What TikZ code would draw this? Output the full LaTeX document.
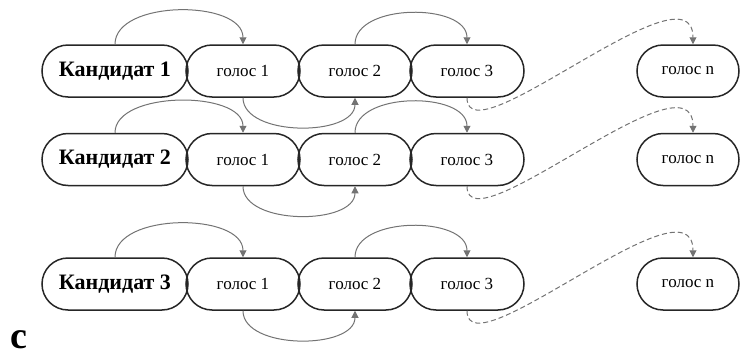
\documentclass[tikz,border=0pt]{standalone}
\usepackage{fontspec}
\setmainfont{Liberation Serif}
\usetikzlibrary{shapes.misc,arrows.meta}

\begin{document}
\begin{tikzpicture}[x=0.5pt,y=0.5pt,>={Triangle[length=3.5pt,width=3.5pt]},
  pill/.style={draw=black!85, line width=0.75pt, rounded rectangle, minimum height=26pt, inner sep=1pt},
  cand/.style={pill, minimum width=75pt, font=\fontsize{11}{13}\selectfont\bfseries},
  vote/.style={pill, minimum width=59pt, font=\fontsize{8.5}{10}\selectfont},
  hop/.style={->, draw=black!55, line width=0.5pt},
  skip/.style={hop, dash pattern=on 2.5pt off 1.5pt}]
\useasboundingbox (0,0) rectangle (741,-354);
% candidate 1
\node[cand] (c1) at (115,-71) {Кандидат 1};
\node[vote] (v11) at (243,-71) {голос 1};
\node[vote] (v12) at (355,-71) {голос 2};
\node[vote] (v13) at (467,-71) {голос 3};
\node[vote, minimum width=53pt] (v1n) at (688,-71) {голос n};
\draw[hop] (c1.north) to[out=90,in=90,looseness=0.9] (v11.north);
\draw[hop] (v11.south) to[out=-90,in=-90,looseness=0.9] (v12.south);
\draw[hop] (v12.north) to[out=90,in=90,looseness=0.95] (v13.north);
\draw[skip] (v13.south) .. controls +(0,-63) and +(0,85) .. ([xshift=2.5pt]v1n.north);
% candidate 2
\node[cand] (c2) at (115,-159.5) {Кандидат 2};
\node[vote] (v21) at (243,-159.5) {голос 1};
\node[vote] (v22) at (355,-159.5) {голос 2};
\node[vote] (v23) at (467,-159.5) {голос 3};
\node[vote, minimum width=53pt] (v2n) at (688,-159.5) {голос n};
\draw[hop] (c2.north) to[out=90,in=90,looseness=0.85] (v21.north);
\draw[hop] (v21.south) to[out=-90,in=-90,looseness=0.9] (v22.south);
\draw[hop] (v22.north) to[out=90,in=90,looseness=0.95] (v23.north);
\draw[skip] (v23.south) .. controls +(0,-63) and +(0,85) .. ([xshift=2.5pt]v2n.north);
% candidate 3
\node[cand] (c3) at (115,-284) {Кандидат 3};
\node[vote] (v31) at (243,-284) {голос 1};
\node[vote] (v32) at (355,-284) {голос 2};
\node[vote] (v33) at (467,-284) {голос 3};
\node[vote, minimum width=53pt] (v3n) at (688,-284) {голос n};
\draw[hop] (c3.north) to[out=90,in=90,looseness=0.9] (v31.north);
\draw[hop] (v31.south) to[out=-90,in=-90,looseness=0.9] (v32.south);
\draw[hop] (v32.north) to[out=90,in=90,looseness=0.95] (v33.north);
\draw[skip] (v33.south) .. controls +(0,-63) and +(0,85) .. ([xshift=2.5pt]v3n.north);
\node[font=\fontsize{19}{21}\selectfont\bfseries] (tag) at (19,-340) {с};
\end{tikzpicture}
\end{document}
